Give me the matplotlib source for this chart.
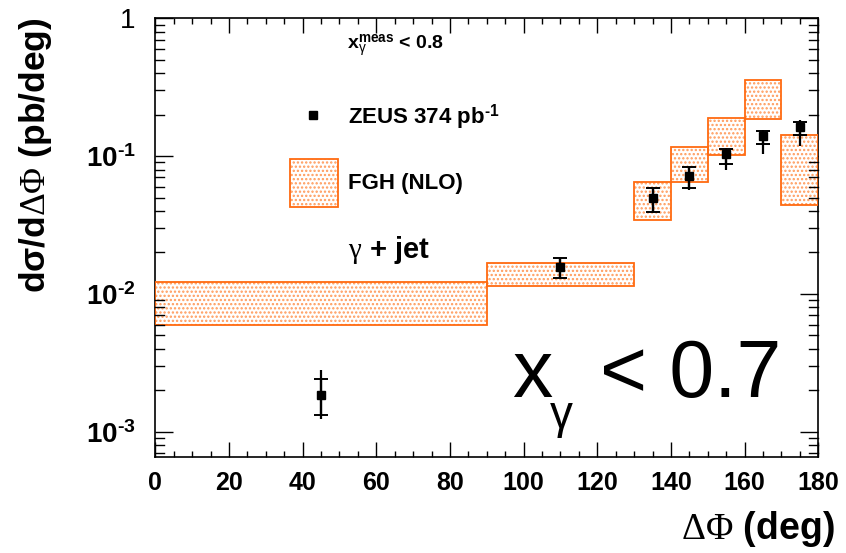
import matplotlib

matplotlib.use("Agg")
import matplotlib.pyplot as plt
from matplotlib.patches import Rectangle
from matplotlib.ticker import MultipleLocator, NullLocator

plt.rcParams["font.family"] = ["Liberation Sans", "DejaVu Sans"]
plt.rcParams["mathtext.fontset"] = "custom"
plt.rcParams["mathtext.rm"] = "Liberation Serif"
plt.rcParams["mathtext.it"] = "Liberation Serif:italic"
plt.rcParams["mathtext.bf"] = "Liberation Sans:bold"
plt.rcParams["mathtext.sf"] = "Liberation Sans"
plt.rcParams["hatch.linewidth"] = 1.1

# FGH (NLO) prediction bands: bin edges and band low/high
bin_lo = [0, 90, 130, 140, 150, 160, 170]
bin_hi = [90, 130, 140, 150, 160, 170, 180]
band_low = [0.00593, 0.01145, 0.0347, 0.0648, 0.1017, 0.186, 0.0439]
band_high = [0.01216, 0.0167, 0.0648, 0.1162, 0.190, 0.355, 0.143]

# ZEUS 374 pb^-1 data points
dphi = [45, 110, 135, 145, 155, 165, 175]
xsec = [0.00186, 0.01573, 0.0499, 0.0721, 0.1034, 0.1397, 0.1636]
tot_lo = [0.00124, 0.0130, 0.0384, 0.0564, 0.0796, 0.1028, 0.1175]
tot_hi = [0.00279, 0.0181, 0.0590, 0.0841, 0.115, 0.1545, 0.1817]
stat_lo = [0.00132, 0.0130, 0.0392, 0.0590, 0.0881, 0.123, 0.1413]
stat_hi = [0.00242, 0.0181, 0.0590, 0.0830, 0.113, 0.153, 0.178]

ytick_vals = [1e-3, 1e-2, 1e-1, 1]
ytick_labels = [r"$\mathbf{10^{‐3}}$", r"$\mathbf{10^{‐2}}$", r"$\mathbf{10^{‐1}}$", "1"]
y_min, y_max = 6.6e-4, 1.0
yminor_vals = [m * 10.0 ** e for e in range(-4, 0) for m in range(2, 10)]
yminor_vals = [v for v in yminor_vals if y_min <= v <= y_max]

W, H = 846, 553
orange = "#ff6a10"
dot_orange = "#ff9a5a"


def px(x, y):
    return x / W, 1 - y / H


fig = plt.figure(figsize=(W / 100, H / 100), dpi=100)
ax = fig.add_axes([155.3 / W, 1 - 456.7 / H, 663 / W, 438.4 / H])
ax.set_yscale("log")

widths = [h - l for l, h in zip(bin_lo, bin_hi)]
heights = [h - l for l, h in zip(band_low, band_high)]
ax.bar(bin_lo, heights, width=widths, bottom=band_low, align="edge",
       facecolor="white", edgecolor=dot_orange, hatch="....", linewidth=0, zorder=2)
ax.bar(bin_lo, heights, width=widths, bottom=band_low, align="edge",
       fill=False, edgecolor=orange, linewidth=1.3, zorder=3)

tot_err = [[y - lo for y, lo in zip(xsec, tot_lo)], [hi - y for y, hi in zip(xsec, tot_hi)]]
stat_err = [[y - lo for y, lo in zip(xsec, stat_lo)], [hi - y for y, hi in zip(xsec, stat_hi)]]
ax.errorbar(dphi, xsec, yerr=tot_err, fmt="none", ecolor="black", elinewidth=1.6,
            capsize=0, zorder=4)
ax.errorbar(dphi, xsec, yerr=stat_err, fmt="s", color="black", markersize=6,
            ecolor="black", elinewidth=1.6, capsize=5, capthick=1.4, zorder=5)

# axis titles
fig.text(*px(835, 539), r"$\Delta\Phi$ (deg)", ha="right", va="baseline",
         fontsize=27, fontweight="bold")
fig.text(*px(35.5, 18), r"d$\mathbf{\sigma}$/d$\Delta\Phi$ (pb/deg)", rotation=90,
         ha="center", va="top", fontsize=25.5, fontweight="bold")

# annotations
fig.text(*px(346.7, 48.3), r"$\mathbf{x}_{\mathsf{\gamma}}^{\mathbf{meas}}$ < 0.8",
         ha="left", va="baseline", fontsize=14, fontweight="bold")
fig.lines.append(plt.Line2D([313 / W], [1 - 115 / H], marker="s", color="black",
                            markersize=6, linestyle="none", transform=fig.transFigure,
                            figure=fig))
fig.text(*px(348, 124), r"ZEUS 374 pb$^{\mathbf{‐1}}$", ha="left", va="baseline",
         fontsize=16, fontweight="bold")
leg_box = dict(xy=(290 / W, 1 - 207 / H), width=48 / W, height=48 / H,
               transform=fig.transFigure, figure=fig)
fig.patches.append(Rectangle(**leg_box, facecolor="white", edgecolor=dot_orange,
                             hatch="....", linewidth=0, zorder=2))
fig.patches.append(Rectangle(**leg_box, fill=False, edgecolor=orange, linewidth=1.3,
                             zorder=3))
fig.text(*px(348, 189.3), "FGH (NLO)", ha="left", va="baseline",
         fontsize=16, fontweight="bold")
fig.text(*px(348, 258), r"$\mathrm{\gamma}$ + jet", ha="left", va="baseline",
         fontsize=21, fontweight="bold")

fig.text(*px(511.7, 396.7), "x", ha="left", va="baseline", fontsize=58)
fig.text(*px(550, 428.5), "γ", ha="left", va="baseline", fontsize=33)
fig.text(*px(600, 396.7), "< 0.7", ha="left", va="baseline", fontsize=58)

# ticks
ax.set_xlim(0, 180)
ax.set_ylim(y_min, y_max)
ax.xaxis.set_major_locator(MultipleLocator(20))
ax.xaxis.set_minor_locator(MultipleLocator(5))
ax.set_yticks(ytick_vals)
ax.set_yticklabels(ytick_labels)
ax.yaxis.set_minor_locator(NullLocator())
ax.tick_params(which="both", direction="in", top=True, right=True, width=1.0)
ax.tick_params(axis="x", which="major", length=11, pad=10, labelsize=18)
ax.tick_params(axis="x", which="minor", length=4.5)
ax.tick_params(axis="y", which="major", length=12.7, pad=14, labelsize=20)
for lab in ax.get_xticklabels():
    lab.set_fontweight("bold")
for s in ax.spines.values():
    s.set_linewidth(1.2)

# small log ticks on both y spines, drawn in axes-x / data-y coordinates
minor_len = 9 / 663
ytrans = ax.get_yaxis_transform()
for v in yminor_vals:
    ax.plot([0, minor_len], [v, v], color="black", linewidth=1.0,
            transform=ytrans, clip_on=False, zorder=6)
    ax.plot([1 - minor_len, 1], [v, v], color="black", linewidth=1.0,
            transform=ytrans, clip_on=False, zorder=6)
ax.set_xlim(0, 180)
ax.set_ylim(y_min, y_max)

fig.savefig("out.png", dpi=100)
